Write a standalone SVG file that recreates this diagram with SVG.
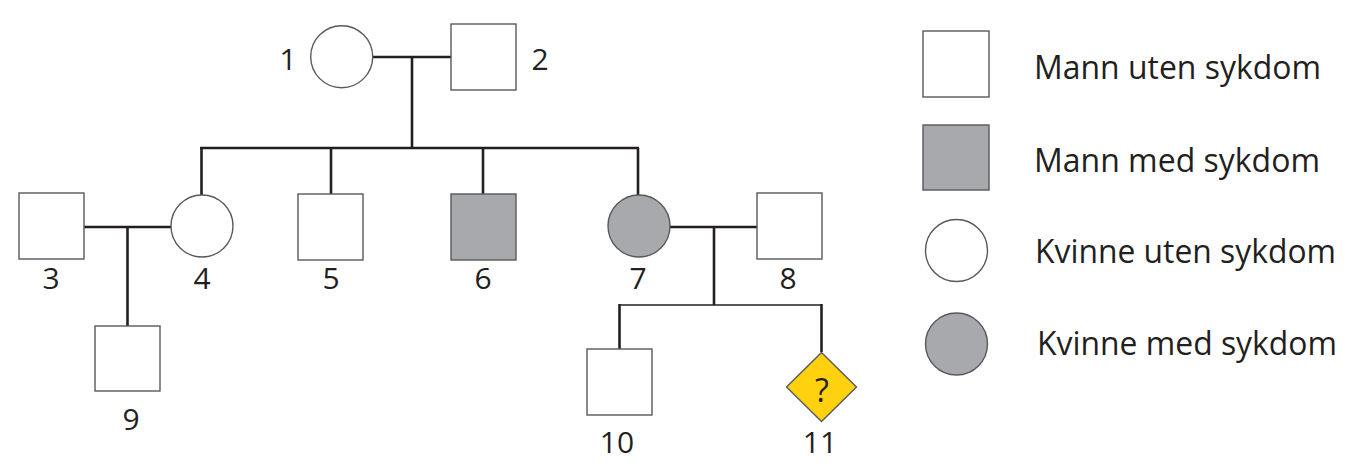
<svg xmlns="http://www.w3.org/2000/svg" width="1362" height="471" viewBox="0 0 1362 471">
<style>
.bg{fill:#ffffff}
.line{stroke:#231f20;stroke-width:2.6;fill:none}
.thin{stroke:#231f20;stroke-width:1.6;fill:none}
.sh{stroke:#58595b;stroke-width:1.4}
.well{fill:#ffffff}
.ill{fill:#a7a9ac}
.unk{fill:#ffd10f;stroke:#58595b;stroke-width:1.4}
.num{font-family:"Open Sans","Noto Sans","DejaVu Sans",sans-serif;font-size:30px;fill:#231f20;text-anchor:middle}
.leg{font-family:"Open Sans","Noto Sans","DejaVu Sans",sans-serif;font-size:32px;fill:#231f20}
.q{font-family:"Open Sans","Noto Sans","DejaVu Sans",sans-serif;font-size:32px;fill:#231f20;text-anchor:middle}
</style>
<rect class="bg" x="0" y="0" width="1362" height="471"/>
<g id="connectors">
<line class="line" x1="372" y1="57" x2="451" y2="57"/>
<line class="line" x1="412" y1="57" x2="412" y2="148"/>
<line class="line" x1="200" y1="148" x2="639" y2="148"/>
<line class="line" x1="201.5" y1="148" x2="201.5" y2="195"/>
<line class="line" x1="331" y1="148" x2="331" y2="194"/>
<line class="line" x1="483" y1="148" x2="483" y2="194"/>
<line class="line" x1="638" y1="148" x2="638" y2="195"/>
<line class="line" x1="84" y1="227" x2="171" y2="227"/>
<line class="line" x1="127.5" y1="227" x2="127.5" y2="326"/>
<line class="line" x1="669" y1="227" x2="757" y2="227"/>
<line class="line" x1="714" y1="227" x2="714" y2="305"/>
<line class="thin" x1="619" y1="305" x2="822" y2="305"/>
<line class="line" x1="619.5" y1="304" x2="619.5" y2="349"/>
<line class="line" x1="821.5" y1="304" x2="821.5" y2="352"/>
</g>
<g id="node1"><circle class="sh well" cx="341.7" cy="56.7" r="31"/><text class="num" x="288" y="70">1</text></g>
<g id="node2"><rect class="sh well" x="451" y="24" width="65" height="66"/><text class="num" x="540" y="70">2</text></g>
<g id="node3"><rect class="sh well" x="19" y="193" width="65" height="66"/><text class="num" x="51" y="289">3</text></g>
<g id="node4"><circle class="sh well" cx="202" cy="226" r="31"/><text class="num" x="202" y="289">4</text></g>
<g id="node5"><rect class="sh well" x="298" y="194" width="65" height="66"/><text class="num" x="331" y="289">5</text></g>
<g id="node6"><rect class="sh ill" x="451" y="194" width="65" height="66"/><text class="num" x="483" y="289">6</text></g>
<g id="node7"><circle class="sh ill" cx="639" cy="226" r="31"/><text class="num" x="638" y="289">7</text></g>
<g id="node8"><rect class="sh well" x="757" y="193" width="65" height="66"/><text class="num" x="788" y="289">8</text></g>
<g id="node9"><rect class="sh well" x="95" y="326" width="65" height="65"/><text class="num" x="131" y="430">9</text></g>
<g id="node10"><rect class="sh well" x="587" y="349" width="65" height="66"/><text class="num" x="617" y="453">10</text></g>
<g id="node11"><polygon class="unk" points="821.5,352.5 856.5,387 821.5,421.5 786.5,387"/><text class="q" x="822" y="401.5">?</text><text class="num" x="820" y="453">11</text></g>
<g id="legend">
<rect class="sh well" x="923" y="31" width="66" height="66"/>
<text class="leg" x="1034" y="79" textLength="287" lengthAdjust="spacingAndGlyphs">Mann uten sykdom</text>
<rect class="sh ill" x="923" y="125" width="66" height="65"/>
<text class="leg" x="1034" y="171.5" textLength="286" lengthAdjust="spacingAndGlyphs">Mann med sykdom</text>
<circle class="sh well" cx="956.5" cy="250.5" r="31"/>
<text class="leg" x="1035" y="263" textLength="301" lengthAdjust="spacingAndGlyphs">Kvinne uten sykdom</text>
<circle class="sh ill" cx="956.5" cy="344" r="31"/>
<text class="leg" x="1037" y="355" textLength="300" lengthAdjust="spacingAndGlyphs">Kvinne med sykdom</text>
</g>
</svg>
